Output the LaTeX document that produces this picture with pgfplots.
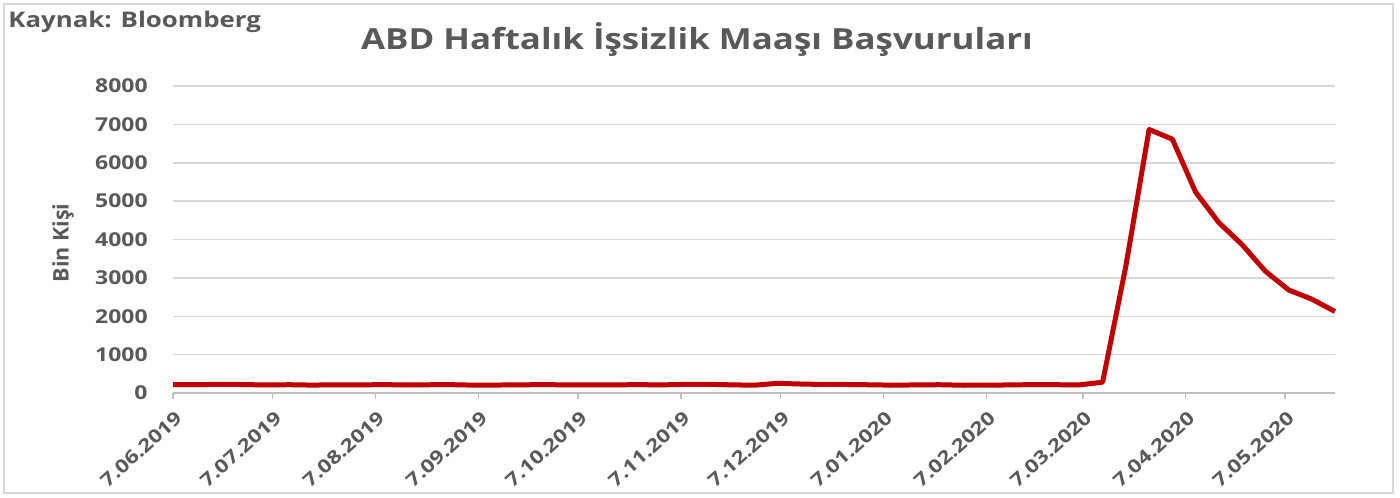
\documentclass[border=0pt]{standalone}
\usepackage{fontspec}
\setmainfont{Open Sans}[FakeStretch=1.2]
\newfontfamily\plainfont{Open Sans}
\usepackage{pgfplots}
\pgfplotsset{compat=1.18}
\definecolor{txtgrey}{HTML}{595959}
\definecolor{gridgrey}{HTML}{D9D9D9}
\definecolor{axgrey}{HTML}{BFBFBF}
\definecolor{linered}{HTML}{C00000}
\begin{document}
\begin{tikzpicture}[x=1bp,y=1bp]
\useasboundingbox (0,0) rectangle (700,248.5);
\draw[gridgrey, line width=1bp] (2,2) rectangle (696.5,246.5);
\begin{axis}[
  at={(86.5bp,52bp)}, anchor=south west,
  scale only axis, width=581bp, height=153.5bp,
  xmin=0, xmax=350, ymin=0, ymax=8000,
  ytick={0,1000,...,8000},
  xtick={0,30,61,92,122,153,183,214,245,274,305,335},
  xticklabels={7.06.2019,7.07.2019,7.08.2019,7.09.2019,7.10.2019,7.11.2019,7.12.2019,7.01.2020,7.02.2020,7.03.2020,7.04.2020,7.05.2020},
  axis line style={draw=none},
  axis x line*=bottom,
  x axis line style={draw=axgrey, line width=0.8bp},
  axis y line*=left,
  y axis line style={draw=none},
  ymajorgrids, grid style={gridgrey, line width=0.75bp},
  ytick style={draw=none},
  xtick style={axgrey, line width=0.8bp},
  tick align=outside, major tick length=3bp,
  /pgf/number format/assume math mode=true,
  /pgf/number format/set thousands separator={},
  ticklabel style={font=\fontsize{9.6}{11}\selectfont\bfseries, text=txtgrey},
  yticklabel style={anchor=east, inner sep=0pt, xshift=-9.5bp},
  xticklabel style={font=\fontsize{9.3}{11}\selectfont\bfseries, xshift=3bp, yshift=-8bp, rotate=42, anchor=east, inner sep=0pt},
  ylabel={\plainfont\bfseries Bin Kişi},
  ylabel style={at={(axis description cs:-0.0947,0.489)}, anchor=center, rotate=0, font=\fontsize{10.8}{12}\selectfont, text=txtgrey},
  clip=false,
]
\addplot[linered, line width=2.5bp, line join=round] coordinates {
(0,222) (7,216) (14,227) (21,221) (28,209) (35,216) (42,206) (49,215)
(56,209) (63,220) (70,209) (77,215) (84,217) (91,204) (98,208) (105,213)
(112,219) (119,210) (126,214) (133,212) (140,218) (147,211) (154,225) (161,227)
(168,213) (175,203) (182,252) (189,234) (196,222) (203,222) (210,214) (217,204)
(224,211) (231,216) (238,202) (245,205) (252,210) (259,219) (266,216) (273,211)
(280,282) (287,3307) (294,6867) (301,6615) (308,5237) (315,4442) (322,3867)
(329,3176) (336,2687) (343,2446) (350,2123)
};
\end{axis}
\node[anchor=center, text=txtgrey, font=\fontsize{14.6}{17}\selectfont\bfseries] at (348.5,228.5) {ABD Haftalık İşsizlik Maaşı Başvuruları};
\node[anchor=west, inner sep=0pt, text=txtgrey, font=\fontsize{10.8}{12}\selectfont\bfseries] at (4,237.5) {Kaynak: Bloomberg};
\end{tikzpicture}
\end{document}
